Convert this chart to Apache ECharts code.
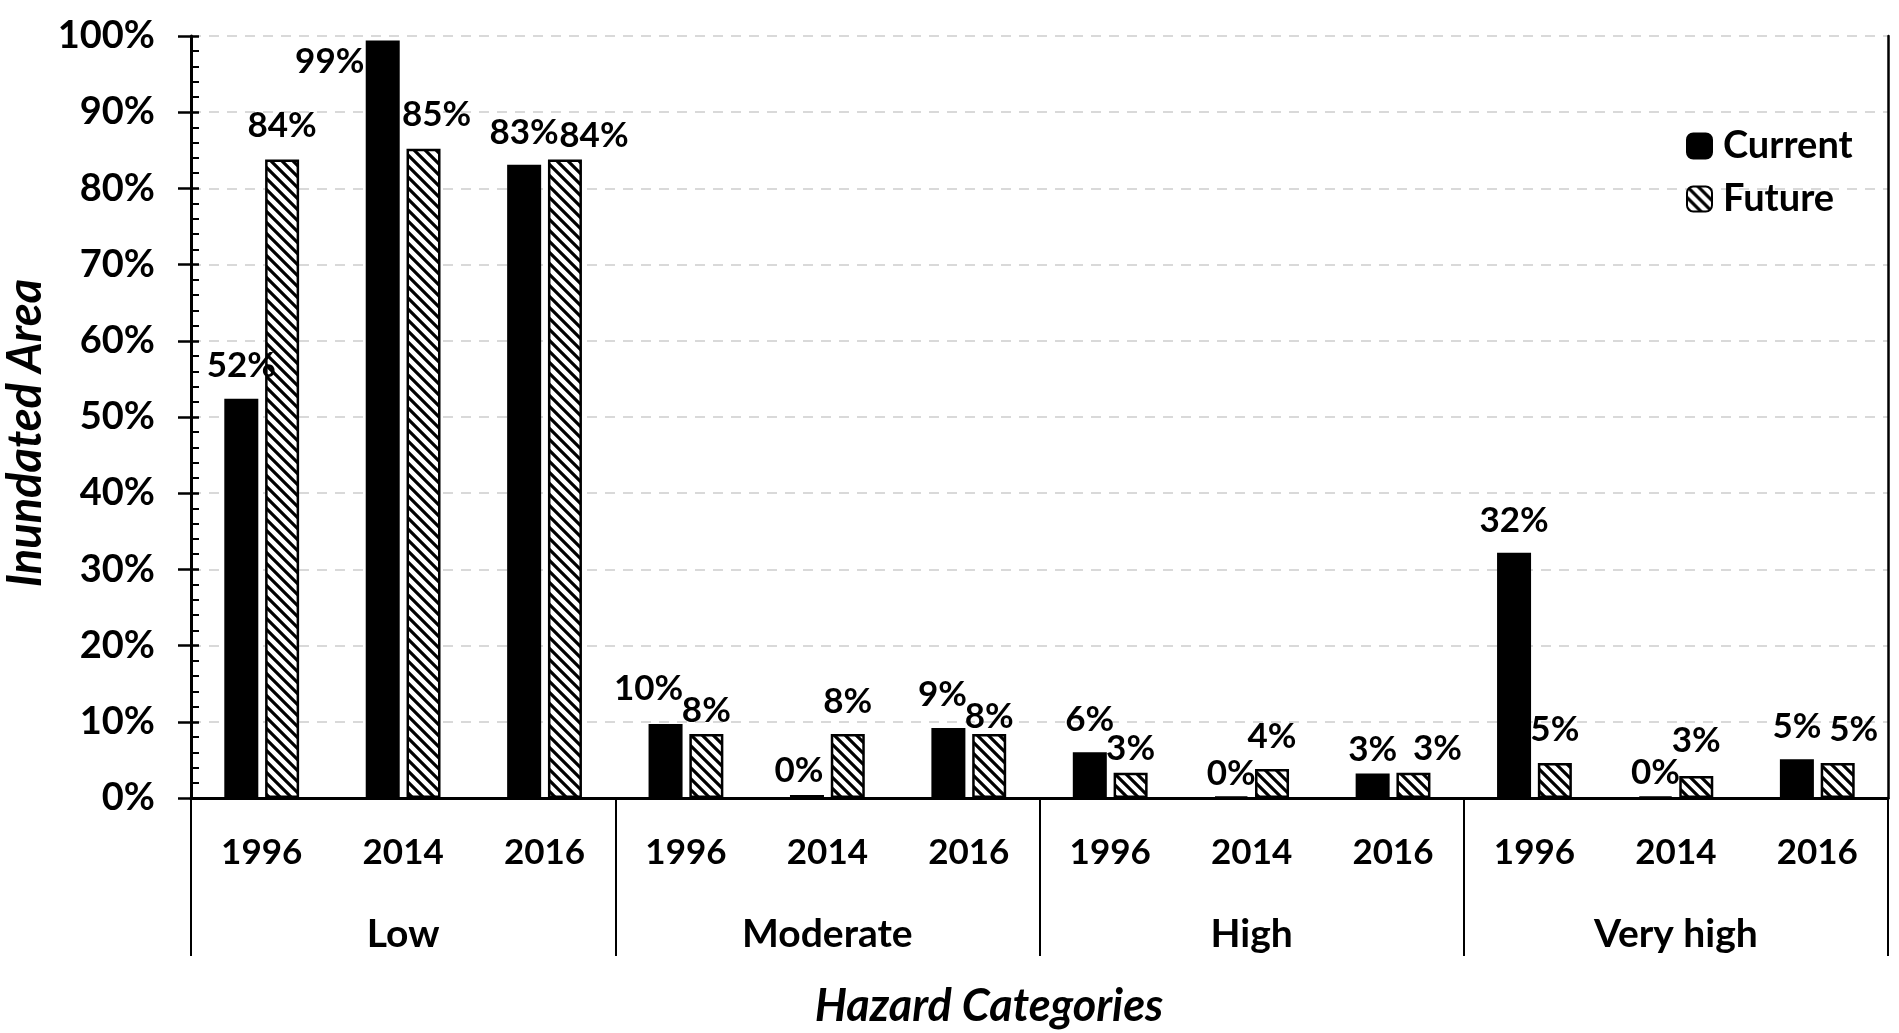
<!DOCTYPE html>
<html><head><meta charset="utf-8">
<script src="https://cdn.jsdelivr.net/npm/echarts@6/dist/echarts.min.js"></script>
<style>html,body{margin:0;padding:0;background:#fff}#c{width:1899px;height:1033px}</style>
</head><body><div id="c"></div>
<script>
const groups = ['Low', 'Moderate', 'High', 'Very high'];
const years = ['1996', '2014', '2016'];
const currentValues = [52.4, 99.4, 83.1, 9.7, 0.4, 9.2, 6.0, 0.2, 3.2, 32.2, 0.2, 5.1];
const futureValues = [83.8, 85.2, 83.8, 8.4, 8.4, 8.4, 3.3, 3.8, 3.3, 4.6, 2.9, 4.6];
const seriesNames = ['Current', 'Future'];

// label nudges (styling only): [dx, dy] of label centre from bar top centre
const labelNudgeCurrent = [[0,-33],[-53,21],[0,-32],[-17,-35],[-8,-24],[-6,-33],[0,-33],[0,-23],[0,-24],[0,-32],[0,-24],[0,-32]];
const labelNudgeFuture = [[0,-34],[13,-34],[29,-24],[0,-23],[0,-32],[0,-17],[0,-24],[0,-32],[24,-24],[0,-33],[0,-35],[16,-33]];

const yearCats = [];
groups.forEach(() => years.forEach(y => yearCats.push(y)));

function hatch() {
  const s = 11, c = document.createElement('canvas');
  c.width = s; c.height = s;
  const g = c.getContext('2d');
  g.fillStyle = '#fff'; g.fillRect(0, 0, s, s);
  g.strokeStyle = '#000'; g.lineWidth = 3.2;
  g.beginPath();
  g.moveTo(-2, -2); g.lineTo(s + 2, s + 2);
  g.moveTo(-3, s - 3); g.lineTo(3, s + 3);
  g.moveTo(s - 3, -3); g.lineTo(s + 3, 3);
  g.stroke();
  return c;
}
const FONT = 'Lato';
const LH = 36;
function mkData(vals, nudges) {
  return vals.map((v, i) => ({ value: v, label: { offset: [nudges[i][0], nudges[i][1] + LH / 2] } }));
}
const labelBase = {
  show: true, position: 'top', distance: 0,
  formatter: p => Math.round(p.value) + '%',
  fontSize: 35, fontWeight: 'bold', fontFamily: FONT, color: '#000', lineHeight: LH
};
const black = { color: '#000', width: 2.5 };
const chart = echarts.init(document.getElementById('c'));
const option = {
  animation: false,
  textStyle: { fontFamily: FONT, fontWeight: 'bold', color: '#000' },
  grid: { left: 191, right: 11, top: 36, bottom: 235, show: false },
  legend: {
    orient: 'vertical', left: 1681, top: 122, itemWidth: 25, itemHeight: 25, itemGap: 15,
    textStyle: { fontSize: 38, fontWeight: 'bold', fontFamily: FONT, color: '#000', padding: [0, 0, 0, 6] },
    data: seriesNames
  },
  xAxis: [
    { type: 'category', data: yearCats, position: 'bottom',
      axisLine: { lineStyle: { color: '#000', width: 3 } }, axisTick: { show: false },
      axisLabel: { interval: 0, margin: 37, fontSize: 35, fontWeight: 'bold', fontFamily: FONT, color: '#000' },
      splitLine: { show: false } },
    { type: 'category', data: groups, position: 'bottom',
      axisLine: { show: false },
      axisTick: { show: true, interval: 0, length: 158, lineStyle: { color: '#000', width: 2 } },
      axisLabel: { interval: 0, margin: 117, fontSize: 39, fontWeight: 'bold', fontFamily: FONT, color: '#000' },
      splitLine: { show: false } },
    { type: 'category', data: groups, position: 'top',
      axisLine: { show: true, lineStyle: black }, axisTick: { show: false }, axisLabel: { show: false },
      splitLine: { show: false } }
  ],
  yAxis: [
    { type: 'value', min: 0, max: 100, interval: 10, position: 'left',
      axisLabel: { formatter: '{value}%', margin: 36, fontSize: 38, fontWeight: 'bold', fontFamily: FONT, color: '#000' },
      axisLine: { show: true, lineStyle: { color: '#000', width: 3 } },
      axisTick: { show: true, length: 13, lineStyle: { color: '#000', width: 2.5 } },
      splitLine: { show: true, lineStyle: { color: '#d9d9d9', type: [10, 8], width: 2 } } },
    { type: 'value', min: 0, max: 100, interval: 10, position: 'left',
      axisLabel: { show: false }, axisLine: { show: false },
      axisTick: { show: true, inside: true, length: 8, lineStyle: { color: '#000', width: 2.5 } },
      minorTick: { show: true, splitNumber: 5, length: 8, lineStyle: { color: '#000', width: 2 } },
      splitLine: { show: false } },
    { type: 'value', min: 0, max: 100, interval: 10, position: 'right',
      axisLabel: { show: false }, axisLine: { show: true, lineStyle: black },
      axisTick: { show: false }, splitLine: { show: false } }
  ],
  series: [
    { name: seriesNames[0], type: 'bar', xAxisIndex: 0, yAxisIndex: 0, barWidth: 34, barGap: '20%',
      itemStyle: { color: '#000', borderColor: '#000', borderWidth: 2 },
      label: labelBase, data: mkData(currentValues, labelNudgeCurrent) },
    { name: seriesNames[1], type: 'bar', xAxisIndex: 0, yAxisIndex: 0, barWidth: 34, barGap: '20%',
      itemStyle: { color: { image: hatch(), repeat: 'repeat' }, borderColor: '#000', borderWidth: 2.5 },
      label: labelBase, data: mkData(futureValues, labelNudgeFuture) }
  ],
  graphic: [
    { type: 'text', x: 989, y: 1006, style: { text: 'Hazard Categories', fontSize: 45, fontWeight: 'bold', fontStyle: 'italic', fontFamily: FONT, fill: '#000', align: 'center', verticalAlign: 'middle' } },
    { type: 'text', x: 26, y: 433, rotation: Math.PI / 2, style: { text: 'Inundated Area', fontSize: 47, fontWeight: 'bold', fontStyle: 'italic', fontFamily: FONT, fill: '#000', align: 'center', verticalAlign: 'middle' } }
  ]
};
chart.setOption(option);
</script></body></html>
